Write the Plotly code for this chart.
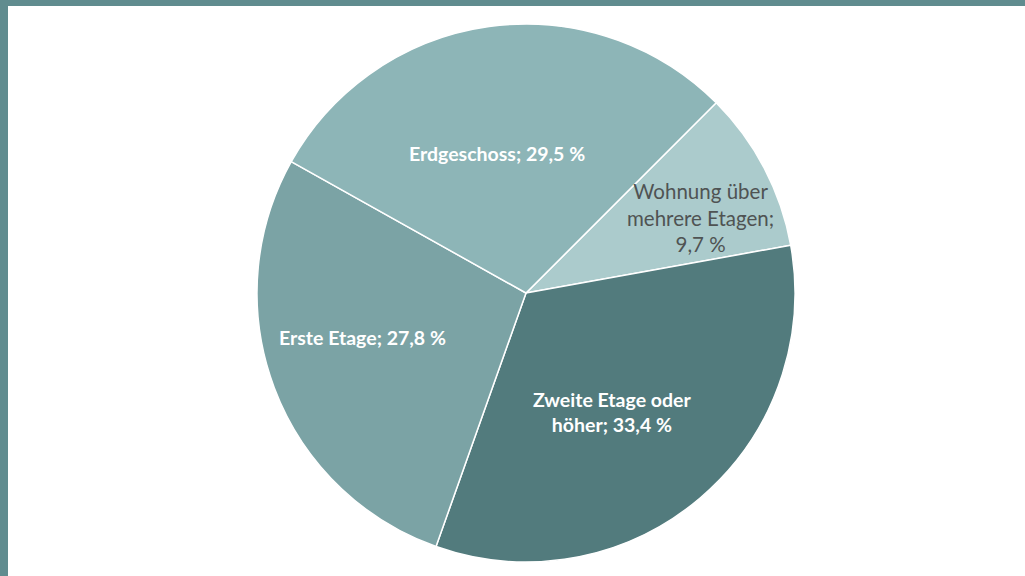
import math
import plotly.graph_objects as go

# Data (clockwise order, first slice starts at 45° clockwise from 12 o'clock)
categories = ["Wohnung über mehrere Etagen", "Zweite Etage oder höher", "Erste Etage", "Erdgeschoss"]
values = [9.7, 33.4, 27.8, 29.5]
label_texts = ["Wohnung über<br>mehrere Etagen;<br>9,7 %",
               "Zweite Etage oder<br>höher; 33,4 %",
               "Erste Etage; 27,8 %",
               "Erdgeschoss; 29,5 %"]

# Styles
colors = ["#abcbcc", "#527b7d", "#7ba3a5", "#8db5b7"]
label_colors = ["#4f5353", "#ffffff", "#ffffff", "#ffffff"]
label_bold = [False, True, True, True]
label_sizes = [20.5, 19.5, 19.5, 19.5]
label_rfrac = [0.706, 0.546, 0.632, 0.53]
label_dang = [4.3, 4.4, 5.3, -3.8]
rotation = 45

W, H = 1025, 576
cx, cy, R = 526, 283, 269  # pixel centre (from bottom) and radius

fig = go.Figure()
fig.add_trace(go.Pie(
    labels=categories, values=values, sort=False, direction="clockwise",
    rotation=rotation, textinfo="none", hoverinfo="label+percent",
    marker=dict(colors=colors, line=dict(color="#ffffff", width=1.5)),
    domain=dict(x=[(cx - R) / W, (cx + R) / W], y=[(cy - R) / H, (cy + R) / H]),
    showlegend=False,
))

total = sum(values)
start = rotation
annotations = []
for v, txt, col, b, sz, rf, da in zip(values, label_texts, label_colors, label_bold,
                                      label_sizes, label_rfrac, label_dang):
    span = v / total * 360
    mid = math.radians(start + span / 2 + da)
    start += span
    px = cx + rf * R * math.sin(mid)
    py = cy + rf * R * math.cos(mid)
    annotations.append(dict(
        x=px / W, y=py / H, xref="paper", yref="paper", showarrow=False,
        text=f"<b>{txt}</b>" if b else txt, align="center",
        font=dict(family="Lato, Open Sans, sans-serif", size=sz, color=col),
        xanchor="center", yanchor="middle",
    ))

shapes = [
    dict(type="rect", xref="paper", yref="paper", x0=0, x1=1, y0=(H - 6) / H, y1=1,
         fillcolor="#608c8f", line=dict(width=0), layer="above"),
    dict(type="rect", xref="paper", yref="paper", x0=0, x1=8 / W, y0=0, y1=1,
         fillcolor="#608c8f", line=dict(width=0), layer="above"),
]

fig.update_layout(
    width=W, height=H, margin=dict(l=0, r=0, t=0, b=0),
    paper_bgcolor="#ffffff", plot_bgcolor="#ffffff",
    annotations=annotations, shapes=shapes,
)
fig.write_html("out.html", config={"displayModeBar": False},
               post_script="document.body.style.margin='0';")
